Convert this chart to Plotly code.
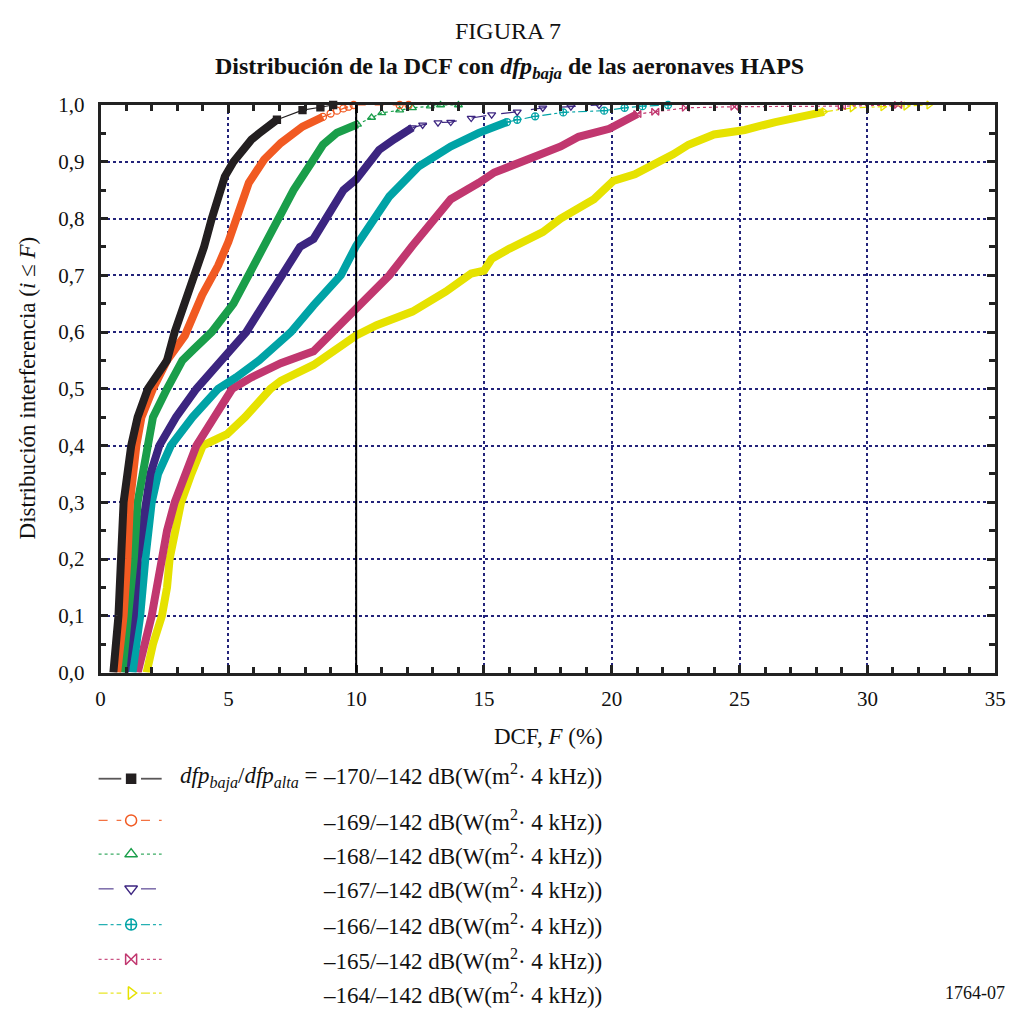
import plotly.graph_objects as go

W, H = 1020, 1009
ML, MR, MT, MB = 0, 0, 105, 5
PW, PH = W - ML - MR, H - MT - MB

# ---------------- data ----------------
series_names = ["–170/–142", "–169/–142", "–168/–142", "–167/–142",
                "–166/–142", "–165/–142", "–164/–142"]

k170_x = [0.5, 0.6, 0.7, 0.8, 0.9, 1.2, 1.45, 1.85, 2.15, 2.6, 2.9, 3.3, 3.65, 4.05, 4.35, 4.65, 4.86, 5.2, 5.7, 5.9, 6.2, 6.9]
k170_y = [0.0, 0.05, 0.1, 0.2, 0.3, 0.4, 0.45, 0.5, 0.52, 0.55, 0.6, 0.65, 0.7, 0.75, 0.8, 0.85, 0.874, 0.9, 0.93, 0.939, 0.95, 0.974]
k170_tx = [6.9, 7.9, 8.6, 9.1]
k170_ty = [0.974, 0.991, 0.996, 1.0]

k169_x = [0.65, 0.8, 0.9, 1.05, 1.15, 1.4, 1.6, 2.05, 2.6, 3.3, 3.97, 4.6, 5.0, 5.4, 5.8, 6.4, 7.05, 7.9, 8.7]
k169_y = [0.0, 0.05, 0.1, 0.2, 0.3, 0.4, 0.45, 0.5, 0.55, 0.594, 0.665, 0.717, 0.759, 0.811, 0.863, 0.904, 0.933, 0.962, 0.979]
k169_tx = [8.7, 9.0, 9.25, 9.5, 9.7, 9.9, 11.7, 12.05]
k169_ty = [0.979, 0.985, 0.99, 0.994, 0.997, 1.0, 1.0, 1.0]

k168_x = [0.85, 1.1, 1.3, 1.45, 1.8, 2.05, 2.6, 3.2, 3.65, 4.35, 5.2, 5.8, 6.35, 7.05, 7.55, 8.33, 8.7, 9.25, 10.05]
k168_y = [0.0, 0.1, 0.2, 0.3, 0.4, 0.45, 0.5, 0.55, 0.57, 0.6, 0.65, 0.7, 0.75, 0.81, 0.85, 0.904, 0.93, 0.951, 0.966]
k168_tx = [10.05, 10.6, 11.0, 11.7, 12.2, 12.9, 13.3, 14.0]
k168_ty = [0.966, 0.978, 0.986, 0.991, 0.995, 0.998, 1.0, 1.0]

k167_x = [0.95, 1.1, 1.3, 1.45, 1.75, 1.95, 2.3, 2.95, 3.75, 4.75, 5.7, 6.4, 7.05, 7.8, 8.33, 9.5, 10.0, 10.9, 11.5, 12.2]
k167_y = [0.0, 0.05, 0.1, 0.2, 0.3, 0.35, 0.4, 0.45, 0.5, 0.55, 0.6, 0.65, 0.694, 0.75, 0.764, 0.85, 0.869, 0.921, 0.94, 0.96]
k167_tx = [12.2, 12.6, 13.2, 13.7, 14.5, 15.3, 16.3, 17.3, 18.4, 19.5]
k167_ty = [0.96, 0.965, 0.969, 0.97, 0.977, 0.983, 0.988, 0.995, 0.997, 1.0]

k166_x = [1.25, 1.55, 1.75, 2.0, 2.25, 2.75, 3.6, 4.6, 5.3, 6.2, 6.95, 7.45, 8.33, 9.4, 10.0, 11.3, 12.45, 13.7, 14.8, 15.9]
k166_y = [0.0, 0.1, 0.2, 0.3, 0.35, 0.4, 0.45, 0.5, 0.52, 0.55, 0.58, 0.6, 0.647, 0.7, 0.752, 0.839, 0.892, 0.927, 0.951, 0.97]
k166_tx = [15.9, 16.3, 17.0, 18.1, 19.7, 20.5, 21.2, 22.2]
k166_ty = [0.97, 0.974, 0.98, 0.987, 0.99, 0.995, 0.998, 1.0]

k165_x = [1.45, 1.75, 2.0, 2.2, 2.4, 2.6, 2.9, 3.3, 3.75, 4.45, 5.15, 5.9, 7.05, 8.33, 10.0, 11.3, 12.2, 13.1, 13.7, 14.8, 15.4, 16.7, 18.0, 18.7, 19.9, 21.0]
k165_y = [0.0, 0.05, 0.1, 0.15, 0.2, 0.25, 0.3, 0.35, 0.4, 0.45, 0.5, 0.52, 0.545, 0.566, 0.642, 0.7, 0.752, 0.804, 0.834, 0.863, 0.881, 0.904, 0.927, 0.944, 0.958, 0.984]
k165_tx = [21.0, 21.7, 22.9, 24.8, 29.0, 31.2]
k165_ty = [0.984, 0.988, 0.995, 0.997, 0.998, 1.0]

k164_x = [1.8, 2.05, 2.4, 2.6, 2.7, 2.9, 3.15, 3.55, 4.0, 4.95, 5.65, 6.65, 7.05, 8.33, 10.0, 10.8, 12.2, 13.5, 14.5, 15.0, 15.3, 16.0, 17.3, 18.0, 19.3, 20.05, 20.9, 22.4, 23.0, 24.0, 25.2, 26.4, 27.4, 28.3]
k164_y = [0.0, 0.05, 0.1, 0.15, 0.2, 0.25, 0.3, 0.35, 0.4, 0.42, 0.45, 0.5, 0.514, 0.542, 0.594, 0.612, 0.636, 0.671, 0.703, 0.708, 0.729, 0.747, 0.776, 0.8, 0.834, 0.866, 0.878, 0.913, 0.93, 0.948, 0.956, 0.97, 0.979, 0.988]
k164_tx = [28.3, 29.4, 30.6, 31.5, 32.4]
k164_ty = [0.988, 0.995, 0.997, 0.998, 1.0]

ref_x = 10  # solid reference line at F = 10 %

x_ticks = [0, 5, 10, 15, 20, 25, 30, 35]
y_ticks = [0.0, 0.1, 0.2, 0.3, 0.4, 0.5, 0.6, 0.7, 0.8, 0.9, 1.0]

# ---------------- styles ----------------
colors = ["#231f20", "#f15a22", "#1a9e4a", "#3c2580", "#00a3a6", "#c1376f", "#e6e200"]
symbols = ["square", "circle-open", "triangle-up-open", "triangle-down-open",
           "circle-cross-open", "bowtie-open", "triangle-right-open"]
dashes = ["solid", "dash", "dot", "longdash", "dashdot", "dot", "dashdot"]

bodies = [(k170_x, k170_y), (k169_x, k169_y), (k168_x, k168_y), (k167_x, k167_y),
          (k166_x, k166_y), (k165_x, k165_y), (k164_x, k164_y)]
tails = [(k170_tx, k170_ty), (k169_tx, k169_ty), (k168_tx, k168_ty), (k167_tx, k167_ty),
         (k166_tx, k166_ty), (k165_tx, k165_ty), (k164_tx, k164_ty)]

def fx(px):
    return (px - ML) / PW

def fy(py):
    return (H - MB - py) / PH

fig = go.Figure()

for i in range(6, -1, -1):
    bx, by = bodies[i]
    tx, ty = tails[i]
    fig.add_trace(go.Scatter(x=tx, y=ty, mode="lines+markers",
                             line=dict(color=colors[i], width=1.2, dash=dashes[i]),
                             marker=dict(symbol=symbols[i], size=7, color=colors[i],
                                         line=dict(color=colors[i], width=1.3)),
                             showlegend=False, cliponaxis=False, hoverinfo="skip"))
    fig.add_trace(go.Scatter(x=bx, y=by, mode="lines",
                             line=dict(color=colors[i], width=8, shape="linear"),
                             showlegend=False, cliponaxis=False, hoverinfo="skip"))

# invisible trace so the mirrored minor-tick axes are drawn
fig.add_trace(go.Scatter(x=[None], y=[None], xaxis="x3", yaxis="y3", showlegend=False,
                         hoverinfo="skip"))

# ---------------- custom legend on a pixel-scaled helper axis ----------------
leg_rows = [784, 826, 860, 895, 931, 966, 1000]
text_rows = [780, 826, 860, 895, 931, 966, 1000]
for i in range(7):
    yy = leg_rows[i]
    fig.add_trace(go.Scatter(x=[95, 118, None, 138, 159], y=[yy, yy, None, yy, yy],
                             mode="lines", line=dict(color=colors[i], width=1.2 if i else 1.8, dash=dashes[i]),
                             opacity=0.85 if i else 0.75,
                             xaxis="x2", yaxis="y2", showlegend=False, cliponaxis=False,
                             hoverinfo="skip"))
    fig.add_trace(go.Scatter(x=[128], y=[yy], mode="markers",
                             marker=dict(symbol=symbols[i], size=11 if i else 9, color=colors[i],
                                         line=dict(color=colors[i], width=1.5)),
                             xaxis="x2", yaxis="y2", showlegend=False, cliponaxis=False,
                             hoverinfo="skip"))

serif = "Liberation Serif, Times New Roman, serif"
annotations = []
annotations.append(dict(x=fx(511), y=fy(30), xref="paper", yref="paper", text="FIGURA 7",
                        showarrow=False, font=dict(family=serif, size=24, color="#111"),
                        xanchor="center", yanchor="middle"))
annotations.append(dict(x=fx(512), y=fy(68), xref="paper", yref="paper",
                        text="<b>Distribución de la DCF con <i>dfp</i><sub><i>baja</i></sub> de las aeronaves HAPS</b>",
                        showarrow=False, font=dict(family=serif, size=24, color="#111"),
                        xanchor="center", yanchor="middle"))
annotations.append(dict(x=fx(552), y=fy(741), xref="paper", yref="paper",
                        text="DCF, <i>F</i> (%)", showarrow=False,
                        font=dict(family=serif, size=23, color="#111"),
                        xanchor="center", yanchor="middle"))
annotations.append(dict(x=fx(23), y=fy(390), xref="paper", yref="paper",
                        text="Distribución interferencia (<i>i</i> ≤ <i>F</i>)", textangle=-90,
                        showarrow=False, font=dict(family=serif, size=23, color="#111"),
                        xanchor="center", yanchor="middle"))
annotations.append(dict(x=fx(1017), y=fy(1000), xref="paper", yref="paper", text="1764-07",
                        showarrow=False, font=dict(family=serif, size=18, color="#111"),
                        xanchor="right", yanchor="middle"))
annotations.append(dict(x=fx(320), y=fy(text_rows[0] + 3), xref="paper", yref="paper",
                        text="<i>dfp</i><sub><i>baja</i></sub>/<i>dfp</i><sub><i>alta</i></sub> =",
                        showarrow=False, font=dict(family=serif, size=23, color="#111"),
                        xanchor="right", yanchor="middle"))
for i in range(7):
    annotations.append(dict(x=fx(321), y=fy(text_rows[i]), xref="paper", yref="paper",
                            text=series_names[i] + " dB(W(m<sup>2</sup>· 4 kHz))",
                            showarrow=False, font=dict(family=serif, size=23, color="#111"),
                            xanchor="left", yanchor="middle"))

shapes = [dict(type="line", xref="x", yref="y", x0=ref_x, x1=ref_x, y0=0, y1=1,
               line=dict(color="black", width=2), layer="above")]

grid_col = "#23237a"
axis_common = dict(zeroline=False, showline=True, linecolor="#222", linewidth=2.5,
                   ticks="inside", tickwidth=2.5, tickcolor="#222")
fig.update_layout(
    width=W, height=H,
    margin=dict(l=ML, r=MR, t=MT, b=MB),
    paper_bgcolor="white", plot_bgcolor="white",
    separators=",.",
    font=dict(family=serif, size=21, color="#111"),
    xaxis=dict(domain=[fx(97), fx(1005)], range=[0, 35], tickvals=x_ticks,
               showgrid=True, gridcolor=grid_col, griddash="dot", gridwidth=2,
               mirror="ticks", ticklen=8,
               minor=dict(dtick=1, ticks="inside", ticklen=6, tickwidth=2.5, tickcolor="#222", showgrid=False),
               tickfont=dict(family=serif, size=21, color="#111"), ticklabelstandoff=6,
               **axis_common),
    yaxis=dict(domain=[fy(677), 1], range=[0, 1], tickvals=y_ticks, tickformat=".1f",
               showgrid=True, gridcolor=grid_col, griddash="dot", gridwidth=2,
               mirror="ticks", ticklen=8,
               minor=dict(dtick=0.05, ticks="inside", ticklen=6, tickwidth=2.5, tickcolor="#222", showgrid=False),
               tickfont=dict(family=serif, size=21, color="#111"), ticklabelstandoff=9,
               **axis_common),
    xaxis3=dict(overlaying="x", side="top", range=[0, 35], dtick=1, showticklabels=False,
                showgrid=False, ticklen=6, anchor="y3", **axis_common),
    yaxis3=dict(overlaying="y", side="right", range=[0, 1], dtick=0.05, showticklabels=False,
                showgrid=False, ticklen=6, anchor="x3", **axis_common),
    xaxis2=dict(domain=[0, 1], range=[0, W], visible=False, fixedrange=True, anchor="y2"),
    yaxis2=dict(domain=[0, fy(760)], range=[H - MB, 760], visible=False, fixedrange=True, anchor="x2"),
    annotations=annotations,
    shapes=shapes,
    showlegend=False,
)

fig.write_html("out.html")
